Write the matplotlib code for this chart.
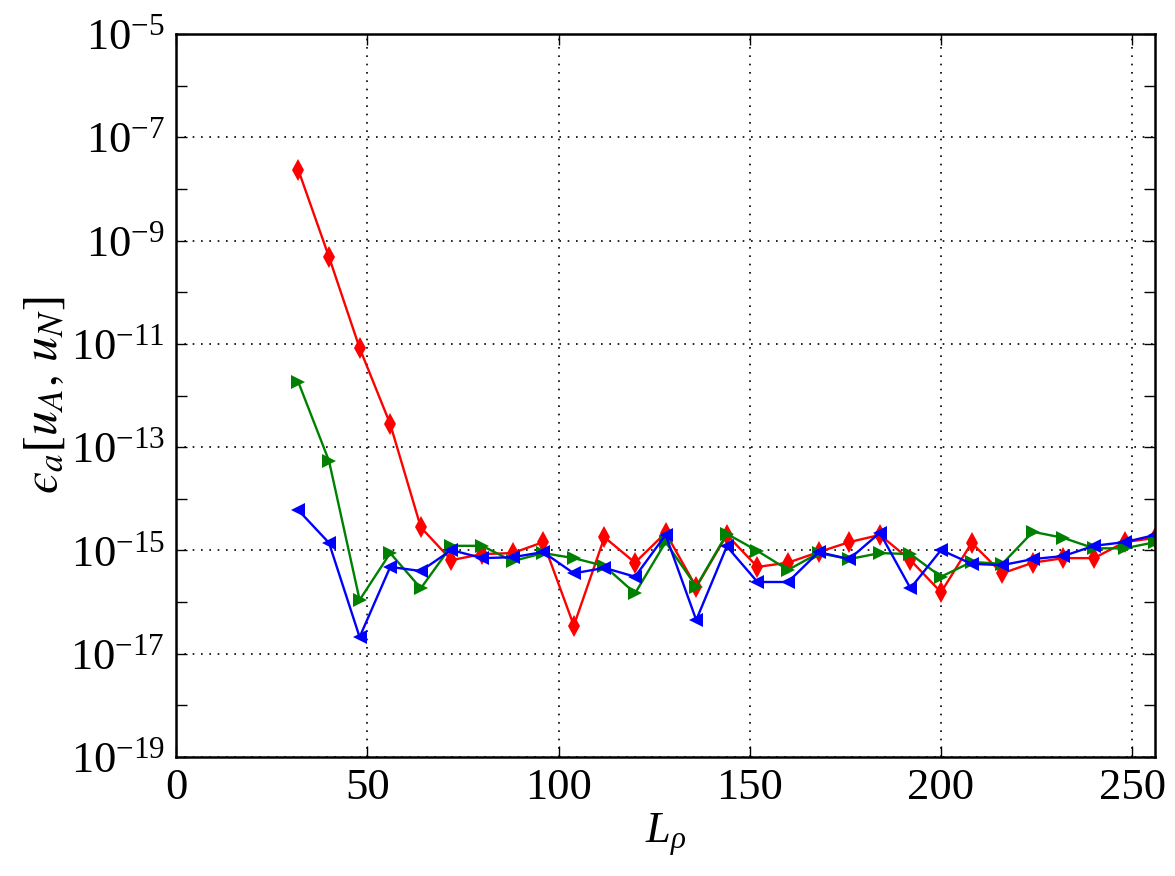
import numpy as np
import matplotlib
matplotlib.use("Agg")
import matplotlib.pyplot as plt
from matplotlib.ticker import FixedLocator, NullFormatter

plt.rcParams['font.family'] = ['Liberation Serif', 'DejaVu Serif']
plt.rcParams['mathtext.fontset'] = 'custom'
plt.rcParams['mathtext.rm'] = 'Liberation Serif'
plt.rcParams['mathtext.it'] = 'Liberation Serif:italic'
plt.rcParams['mathtext.bf'] = 'Liberation Serif:bold'

L_rho = [32, 40, 48, 56, 64, 72, 80, 88, 96, 104, 112, 120, 128, 136, 144, 152,
         160, 168, 176, 184, 192, 200, 208, 216, 224, 232, 240, 248, 256]

err_red = [2.3e-8, 4.8e-10, 8.3e-12, 2.8e-13, 2.8e-15, 6.5e-16, 8.5e-16, 8.9e-16,
           1.45e-15, 3.5e-17, 1.8e-15, 5.8e-16, 2.2e-15, 1.95e-16, 2.0e-15, 4.8e-16,
           5.8e-16, 9.3e-16, 1.45e-15, 2.0e-15, 6.5e-16, 1.55e-16, 1.4e-15, 3.6e-16,
           5.8e-16, 7.1e-16, 7.1e-16, 1.45e-15, 1.75e-15]

err_green = [1.8e-12, 5.4e-14, 1.1e-16, 8.9e-16, 1.85e-16, 1.23e-15, 1.23e-15, 6.2e-16,
             8.9e-16, 7.1e-16, 5.0e-16, 1.48e-16, 1.45e-15, 2.0e-16, 2.1e-15, 9.8e-16,
             4.2e-16, 8.9e-16, 6.8e-16, 8.9e-16, 8.5e-16, 3.1e-16, 6.0e-16, 5.5e-16,
             2.3e-15, 1.75e-15, 1.1e-15, 1.1e-15, 1.45e-15]

err_blue = [6.0e-15, 1.4e-15, 2.1e-17, 4.8e-16, 4.0e-16, 1.02e-15, 7.1e-16, 7.4e-16,
            9.3e-16, 3.6e-16, 4.6e-16, 3.1e-16, 2.0e-15, 4.5e-17, 1.2e-15, 2.45e-16,
            2.45e-16, 9.3e-16, 6.8e-16, 2.2e-15, 1.85e-16, 1.02e-15, 5.5e-16, 5.2e-16,
            6.8e-16, 7.8e-16, 1.23e-15, 1.45e-15, 2.0e-15]

fig = plt.figure(figsize=(11.75, 8.76), dpi=100)
ax = fig.add_axes([0.1498, 0.1358, 0.8334, 0.8254])

ax.plot(L_rho, err_red, color='red', marker='d', markersize=11, markeredgewidth=0, lw=1.7)
ax.plot(L_rho, err_green, color='green', marker='>', markersize=10, markeredgewidth=0, lw=1.7)
ax.plot(L_rho, err_blue, color='blue', marker='<', markersize=10, markeredgewidth=0, lw=1.7)

ax.set_yscale('log')
ax.set_xlim(0, 256)
ax.set_ylim(1e-19, 1e-5)
ax.yaxis.set_major_locator(FixedLocator([10.0 ** e for e in range(-19, -4, 2)]))
ax.yaxis.set_minor_locator(FixedLocator([10.0 ** e for e in range(-18, -5, 2)]))
ax.yaxis.set_minor_formatter(NullFormatter())
ax.set_xticks([0, 50, 100, 150, 200, 250])

ax.grid(True, which='major', color='black', linestyle=(0, (1, 4)), linewidth=1.2)
ax.tick_params(which='both', direction='in', top=True, right=True, labelsize=32, pad=8)
ax.tick_params(which='major', length=8, width=1)
ax.tick_params(which='minor', length=8, width=1)
for s in ax.spines.values():
    s.set_linewidth(1.8)

ax.set_xlabel(r'$L_\rho$', fontsize=32, labelpad=2)
ylab = ax.set_ylabel('$\u03f5_a\\left[u_A,\\,u_N\\right]$', fontsize=36, labelpad=2)
ylab.set_math_fontfamily('stix')

fig.savefig('out.png', dpi=100)
